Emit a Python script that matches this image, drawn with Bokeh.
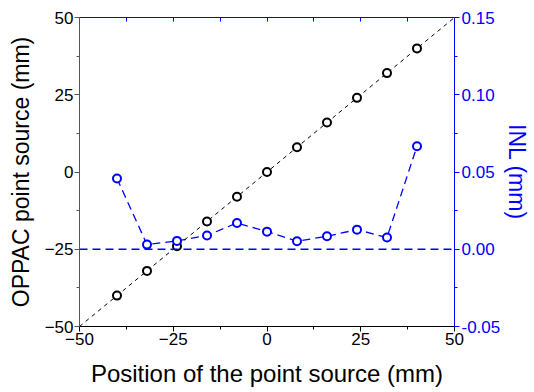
from bokeh.plotting import figure
from bokeh.models import (LinearAxis, Range1d, FixedTicker, NumeralTickFormatter,
                          CustomLabelingPolicy)
from bokeh.embed import file_html
from bokeh.resources import INLINE

# data
positions = [-40, -32, -24, -16, -8, 0, 8, 16, 24, 32, 40]
oppac = [-40, -32, -24, -16, -8, 0, 8, 16, 24, 32, 40]
inl = [0.0458, 0.0030, 0.0054, 0.0089, 0.0170, 0.0114, 0.0052, 0.0084, 0.0127, 0.0076, 0.0667]
fit_x = [-50, 50]
fit_y = [-50, 50]
zero_x = [-50, 50]
zero_y = [0, 0]

# tick labels / positions
x_ticks = [-50, -25, 0, 25, 50]
x_minor = [-37.5, -12.5, 12.5, 37.5]
top_ticks = [-50, -37.5, -25, -12.5, 0, 12.5, 25, 37.5, 50]
y_ticks = [-50, -25, 0, 25, 50]
y_minor = [-37.5, -12.5, 12.5, 37.5]
inl_ticks = [-0.05, 0.0, 0.05, 0.10, 0.15]
inl_minor = [-0.025, 0.025, 0.075, 0.125]

FONT = "Liberation Sans"
BLUE = "#0000FF"

p = figure(width=534, height=392, output_backend="svg", toolbar_location=None,
           x_range=Range1d(-50, 50), y_range=Range1d(-50, 50),
           min_border_left=79, min_border_right=80, min_border_top=17, min_border_bottom=66)
p.outline_line_color = None
p.grid.visible = False
p.extra_y_ranges = {"inl": Range1d(-0.05, 0.15)}

# main series
p.line(fit_x, fit_y, line_color="black", line_width=1, line_dash="4 4")
p.scatter(positions, oppac, size=8, marker="circle", line_color="black",
          fill_color="white", line_width=2)

p.line(zero_x, zero_y, y_range_name="inl", line_color=BLUE, line_width=1.3, line_dash="8 5")
p.line(positions, inl, y_range_name="inl", line_color=BLUE, line_width=1.3, line_dash="8 5")
p.scatter(positions, inl, y_range_name="inl", size=8, marker="circle", line_color=BLUE,
          fill_color="white", line_width=2)

# bottom axis
xa = p.xaxis[0]
xa.ticker = FixedTicker(ticks=x_ticks, minor_ticks=x_minor)
xa.axis_label = "Position of the point source (mm)"
xa.axis_line_color = "black"
xa.major_tick_line_color = "black"
xa.minor_tick_line_color = "black"
xa.major_tick_in = 0
xa.major_tick_out = 5
xa.minor_tick_in = 0
xa.minor_tick_out = 3
xa.major_label_text_font = FONT
xa.major_label_text_font_size = "17px"
xa.major_label_text_color = "black"
xa.major_label_standoff = 1
xa.axis_label_text_font = FONT
xa.axis_label_text_font_size = "24px"
xa.axis_label_text_font_style = "normal"
xa.axis_label_text_color = "black"
xa.axis_label_standoff = 12

# left axis
ya = p.yaxis[0]
ya.ticker = FixedTicker(ticks=y_ticks, minor_ticks=y_minor)
ya.axis_label = "OPPAC point source (mm)"
ya.axis_line_color = "#555555"
ya.major_tick_line_color = "#555555"
ya.minor_tick_line_color = "#555555"
ya.major_tick_in = 0
ya.major_tick_out = 5
ya.minor_tick_in = 0
ya.minor_tick_out = 3
ya.major_label_text_font = FONT
ya.major_label_text_font_size = "17px"
ya.major_label_text_color = "black"
ya.major_label_standoff = 1
ya.axis_label_text_font = FONT
ya.axis_label_text_font_size = "23px"
ya.axis_label_text_font_style = "normal"
ya.axis_label_text_color = "black"
ya.axis_label_standoff = 8

# right axis
ra = LinearAxis(y_range_name="inl", axis_label="INL (mm)",
                ticker=FixedTicker(ticks=inl_ticks, minor_ticks=inl_minor),
                formatter=NumeralTickFormatter(format="0.00"))
ra.axis_line_color = BLUE
ra.major_tick_line_color = BLUE
ra.minor_tick_line_color = BLUE
ra.major_tick_in = 0
ra.major_tick_out = 5
ra.minor_tick_in = 0
ra.minor_tick_out = 3
ra.major_label_text_font = FONT
ra.major_label_text_font_size = "17px"
ra.major_label_text_color = BLUE
ra.major_label_standoff = 2
ra.axis_label_text_font = FONT
ra.axis_label_text_font_size = "23px"
ra.axis_label_text_font_style = "normal"
ra.axis_label_text_color = BLUE
ra.axis_label_standoff = 1
p.add_layout(ra, "right")

# top axis (ticks only, no labels)
ta = LinearAxis(ticker=FixedTicker(ticks=top_ticks, minor_ticks=[]))
ta.axis_line_color = BLUE
ta.major_tick_line_color = BLUE
ta.major_tick_in = 4
ta.major_tick_out = 0
ta.minor_tick_line_color = None
ta.major_label_text_font_size = "1px"
ta.major_label_standoff = 0
ta.major_label_policy = CustomLabelingPolicy(code="""
const ids = [...indices];
for (const i of ids) indices.unset(i);
return indices;
""")
p.add_layout(ta, "above")

open("out.html", "w").write(file_html(p, INLINE))
